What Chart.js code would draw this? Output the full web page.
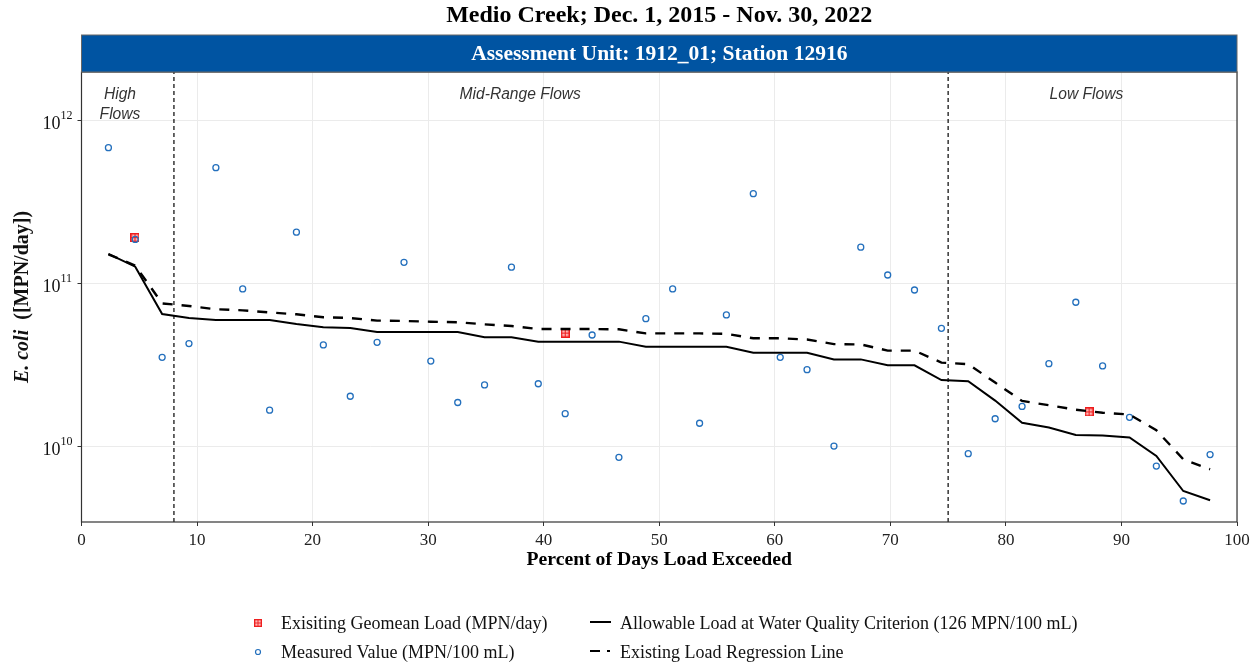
<!DOCTYPE html>
<html>
<head>
<meta charset="utf-8">
<script src="https://cdn.jsdelivr.net/npm/chart.js@4.4.0/dist/chart.umd.min.js"></script>
<style>
  html, body { margin: 0; padding: 0; background: #fff; }
  #wrap { width: 1257px; height: 663px; position: relative; }
</style>
</head>
<body>
<div id="wrap"><canvas id="ldc"></canvas></div>
<script>
// percent of days load exceeded for each sample
const pctExceeded = [2.33, 4.65, 6.98, 9.30, 11.63, 13.95, 16.28, 18.60, 20.93, 23.26, 25.58, 27.91,
  30.23, 32.56, 34.88, 37.21, 39.53, 41.86, 44.19, 46.51, 48.84, 51.16, 53.49, 55.81,
  58.14, 60.47, 62.79, 65.12, 67.44, 69.77, 72.09, 74.42, 76.74, 79.07, 81.40, 83.72,
  86.05, 88.37, 90.70, 93.02, 95.35, 97.67];

const measuredLoad = [6.76e11, 1.85e11, 3.5e10, 4.25e10, 5.1e11, 9.2e10, 1.66e10, 2.05e11, 4.17e10, 2.02e10,
  4.33e10, 1.34e11, 3.32e10, 1.85e10, 2.37e10, 1.25e11, 2.41e10, 1.58e10, 4.8e10, 8.53e9,
  6.04e10, 9.2e10, 1.38e10, 6.37e10, 3.53e11, 3.5e10, 2.94e10, 1.0e10, 1.66e11, 1.12e11,
  9.06e10, 5.27e10, 8.98e9, 1.47e10, 1.75e10, 3.2e10, 7.62e10, 3.1e10, 1.5e10, 7.54e9,
  4.6e9, 8.86e9];

const allowableLoad = [1.51e11, 1.26e11, 6.45e10, 6.1e10, 5.93e10, 5.93e10, 5.93e10, 5.6e10, 5.35e10, 5.3e10,
  5.0e10, 5.0e10, 5.0e10, 5.0e10, 4.65e10, 4.65e10, 4.37e10, 4.37e10, 4.37e10, 4.37e10,
  4.07e10, 4.07e10, 4.07e10, 4.07e10, 3.73e10, 3.73e10, 3.73e10, 3.4e10, 3.4e10, 3.13e10,
  3.13e10, 2.54e10, 2.5e10, 1.9e10, 1.39e10, 1.3e10, 1.17e10, 1.16e10, 1.13e10, 8.7e9,
  5.3e9, 4.65e9];

const regressionLoad = [1.5e11, 1.28e11, 7.5e10, 7.23e10, 6.9e10, 6.8e10, 6.6e10, 6.43e10, 6.17e10, 6.1e10,
  5.88e10, 5.85e10, 5.79e10, 5.75e10, 5.58e10, 5.45e10, 5.22e10, 5.22e10, 5.22e10, 5.2e10,
  4.91e10, 4.91e10, 4.91e10, 4.88e10, 4.58e10, 4.58e10, 4.5e10, 4.22e10, 4.2e10, 3.85e10,
  3.85e10, 3.25e10, 3.18e10, 2.45e10, 1.89e10, 1.78e10, 1.67e10, 1.6e10, 1.56e10, 1.25e10,
  8.3e9, 7.2e9];

const geomeanX = [4.63, 41.86, 87.2];
const geomeanLoad = [1.9e11, 4.93e10, 1.62e10];

const flowBreaks = [8, 75];
const zoneLabels = [["High", "Flows"], ["Mid-Range Flows"], ["Low Flows"]];
const zoneLabelX = [3.33, 37.97, 86.97];

const yTicks = [1e10, 1e11, 1e12];
const yTickExp = ["10", "11", "12"];
const yMin = 3.42e9, yMax = 1.97e12;

const SERIF = '"Liberation Serif", "Times New Roman", serif';
const BLUE = "#2470bd";
const RED = "#ee1c1c";

// red square with cross for geomean
function geoMarker() {
  const c = document.createElement("canvas");
  c.width = 9; c.height = 9;
  const g = c.getContext("2d");
  g.fillStyle = "#ffb3b3";
  g.fillRect(0, 0, 9, 9);
  g.strokeStyle = RED;
  g.lineWidth = 1.4;
  g.strokeRect(0.7, 0.7, 7.6, 7.6);
  g.beginPath();
  g.moveTo(4.5, 1); g.lineTo(4.5, 8);
  g.moveTo(1, 4.5); g.lineTo(8, 4.5);
  g.lineWidth = 1;
  g.stroke();
  return c;
}
const geoImg = geoMarker();

const pts = (xs, ys) => xs.map((x, i) => ({ x: x, y: ys[i] }));

const decorations = {
  id: "decorations",
  afterDraw(chart) {
    const ctx = chart.ctx;
    const a = chart.chartArea;
    const xs = chart.scales.x, ys = chart.scales.y;
    const cx = (a.left + a.right) / 2;
    ctx.save();

    // panel border
    ctx.strokeStyle = "#333";
    ctx.lineWidth = 1.2;
    ctx.strokeRect(a.left, a.top, a.right - a.left, a.bottom - a.top);

    // title
    ctx.fillStyle = "#000";
    ctx.textAlign = "center";
    ctx.textBaseline = "middle";
    ctx.font = "bold 24px " + SERIF;
    ctx.fillText("Medio Creek; Dec. 1, 2015 - Nov. 30, 2022", cx, 16);

    // strip banner
    ctx.fillStyle = "#0054a2";
    ctx.fillRect(a.left, 35, a.right - a.left, a.top - 35);
    ctx.strokeStyle = "#666";
    ctx.lineWidth = 1;
    ctx.strokeRect(a.left, 35, a.right - a.left, a.top - 35);
    ctx.fillStyle = "#fff";
    ctx.font = "bold 21.5px " + SERIF;
    ctx.fillText("Assessment Unit: 1912_01; Station 12916", cx, 54);

    // flow zone labels
    ctx.fillStyle = "#333";
    ctx.font = "italic 15.6px 'Liberation Sans', Arial, sans-serif";
    zoneLabels.forEach((lines, i) => {
      const px = xs.getPixelForValue(zoneLabelX[i]);
      lines.forEach((t, j) => ctx.fillText(t, px, 95 + j * 20));
    });

    // y tick labels 10^n
    ctx.fillStyle = "#111";
    yTicks.forEach((v, i) => {
      const py = ys.getPixelForValue(v);
      ctx.textAlign = "right";
      ctx.font = "18px " + SERIF;
      ctx.fillText("10", 60.5, py + 4);
      ctx.textAlign = "left";
      ctx.font = "12px " + SERIF;
      ctx.fillText(yTickExp[i], 60.5, py - 4);
    });

    // y axis title
    ctx.save();
    ctx.translate(23, 297);
    ctx.rotate(-Math.PI / 2);
    ctx.textAlign = "left";
    ctx.font = "bold italic 20px " + SERIF;
    const p1 = "E. coli";
    const p2 = "  ([MPN/day])";
    const w1 = ctx.measureText(p1).width;
    ctx.font = "bold 20px " + SERIF;
    const w2 = ctx.measureText(p2).width;
    const sx = -(w1 + w2) / 2;
    ctx.font = "bold italic 20px " + SERIF;
    ctx.fillText(p1, sx, 0);
    ctx.font = "bold 20px " + SERIF;
    ctx.fillText(p2, sx + w1, 0);
    ctx.restore();

    // x axis title
    ctx.textAlign = "center";
    ctx.font = "bold 19.7px " + SERIF;
    ctx.fillStyle = "#000";
    ctx.fillText("Percent of Days Load Exceeded", cx, 560);

    // legend
    ctx.font = "18px " + SERIF;
    ctx.textAlign = "left";
    ctx.fillStyle = "#111";
    ctx.drawImage(geoImg, 254, 619, 8, 8);
    ctx.fillText("Exisiting Geomean Load (MPN/day)", 281, 624);
    ctx.beginPath();
    ctx.strokeStyle = BLUE;
    ctx.lineWidth = 1.2;
    ctx.arc(258, 652, 2.5, 0, Math.PI * 2);
    ctx.stroke();
    ctx.fillText("Measured Value (MPN/100 mL)", 281, 653);

    ctx.strokeStyle = "#000";
    ctx.lineWidth = 2;
    ctx.beginPath();
    ctx.moveTo(590, 622); ctx.lineTo(611, 622);
    ctx.stroke();
    ctx.fillText("Allowable Load at Water Quality Criterion (126 MPN/100 mL)", 620, 624);
    ctx.beginPath();
    ctx.moveTo(590, 651); ctx.lineTo(600, 651);
    ctx.moveTo(607, 651); ctx.lineTo(610, 651);
    ctx.stroke();
    ctx.fillText("Existing Load Regression Line", 620, 653);

    ctx.restore();
  }
};

new Chart(document.getElementById("ldc"), {
  type: "scatter",
  data: {
    datasets: [
      {
        label: "Flow break",
        data: [{ x: flowBreaks[0], y: yMin }, { x: flowBreaks[0], y: yMax }],
        showLine: true, pointRadius: 0, borderColor: "#000", borderWidth: 1.2, borderDash: [4, 3]
      },
      {
        label: "Flow break 2",
        data: [{ x: flowBreaks[1], y: yMin }, { x: flowBreaks[1], y: yMax }],
        showLine: true, pointRadius: 0, borderColor: "#000", borderWidth: 1.2, borderDash: [4, 3]
      },
      {
        label: "Allowable Load at Water Quality Criterion (126 MPN/100 mL)",
        data: pts(pctExceeded, allowableLoad),
        showLine: true, pointRadius: 0, borderColor: "#000", borderWidth: 2
      },
      {
        label: "Existing Load Regression Line",
        data: pts(pctExceeded, regressionLoad),
        showLine: true, pointRadius: 0, borderColor: "#000", borderWidth: 2.4, borderDash: [10, 9]
      },
      {
        label: "Measured Value (MPN/100 mL)",
        data: pts(pctExceeded, measuredLoad),
        pointStyle: "circle", pointRadius: 3, borderColor: BLUE, borderWidth: 1.3,
        backgroundColor: "rgba(0,0,0,0)"
      },
      {
        label: "Exisiting Geomean Load (MPN/day)",
        data: pts(geomeanX, geomeanLoad),
        pointStyle: geoImg, pointRadius: 4.5
      }
    ]
  },
  options: {
    responsive: true,
    maintainAspectRatio: false,
    animation: false,
    events: [],
    layout: { padding: { top: 72, right: 20, left: 0, bottom: 0 } },
    plugins: { legend: { display: false }, tooltip: { enabled: false }, title: { display: false } },
    scales: {
      x: {
        type: "linear", min: 0, max: 100,
        afterFit(s) { s.height = 141; },
        ticks: { stepSize: 10, color: "#222", font: { family: SERIF, size: 17 }, padding: 4 },
        grid: { color: "#ebebeb", lineWidth: 1, tickLength: 4, tickColor: "#333" },
        border: { display: false }
      },
      y: {
        type: "logarithmic", min: yMin, max: yMax,
        afterFit(s) { s.width = 81.5; },
        afterBuildTicks(s) { s.ticks = yTicks.map(v => ({ value: v })); },
        ticks: { display: false },
        grid: { color: "#ebebeb", lineWidth: 1, tickLength: 4, tickColor: "#333" },
        border: { display: false }
      }
    }
  },
  plugins: [decorations]
});
</script>
</body>
</html>
